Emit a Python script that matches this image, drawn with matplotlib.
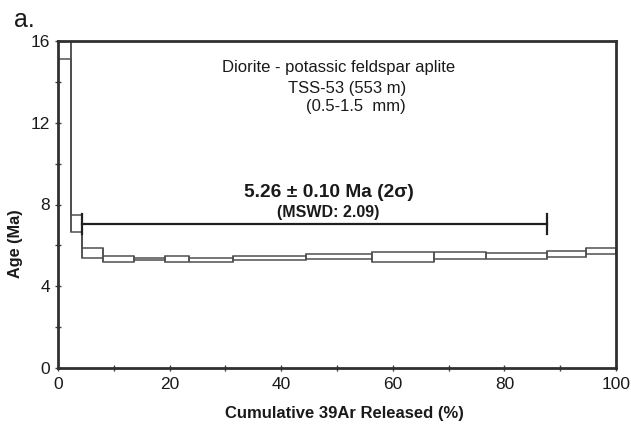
import numpy as np
import matplotlib.pyplot as plt
from matplotlib.ticker import MultipleLocator

plt.rcParams['font.family'] = ['Liberation Sans', 'DejaVu Sans']

# step heating data: cumulative 39Ar edges (%), apparent age (Ma), 2 sigma error
cum_edges = [0, 2.3, 4.25, 8.1, 13.6, 19.2, 23.5, 31.4, 44.4, 56.2, 67.4, 76.7, 87.7, 94.7, 100]
step_age = [15.9, 7.08, 5.62, 5.34, 5.32, 5.33, 5.30, 5.38, 5.46, 5.45, 5.49, 5.48, 5.58, 5.72]
step_err = [0.8, 0.41, 0.25, 0.14, 0.05, 0.13, 0.10, 0.09, 0.13, 0.25, 0.17, 0.16, 0.13, 0.14]

# plateau
plateau_age = 5.26
plateau_err = 0.10
mswd = 2.09
plateau_x = [4.25, 87.7]
plateau_y = 7.04

sample_lines = ["Diorite - potassic feldspar aplite", "TSS-53 (553 m)", "(0.5-1.5  mm)"]

age = np.array(step_age)
err = np.array(step_err)
edges = np.array(cum_edges)
lo = age - err
hi = age + err

fig = plt.figure(figsize=(6.31, 4.25), dpi=100)
ax = fig.add_axes([58 / 631, 1 - 368 / 425, 558 / 631, 327 / 425])

# step outline (upper + lower) and the side edges of every box
box_col = '#505050'
ax.stairs(hi, edges, baseline=lo, color=box_col, lw=1.1)
ax.vlines(edges[:-1], lo, hi, color=box_col, lw=1.1)
ax.vlines(edges[1:], lo, hi, color=box_col, lw=1.1)

# plateau bar with end caps
ax.plot(plateau_x, [plateau_y, plateau_y], color='#202020', lw=1.6)
for xx in plateau_x:
    ax.plot([xx, xx], [plateau_y - 0.5, plateau_y + 0.5], color='#202020', lw=1.6)

ax.text(48.5, 8.58, "%.2f \u00b1 %.2f Ma (2\u03c3)" % (plateau_age, plateau_err),
        ha='center', va='center', fontsize=13.8, fontweight='bold', color='#1a1a1a')
ax.text(48.5, 7.62, "(MSWD: %.2f)" % mswd, ha='center', va='center',
        fontsize=11.5, fontweight='bold', color='#1a1a1a')

ax.text(50.3, 14.68, sample_lines[0], ha='center', va='center', fontsize=12, color='#1a1a1a')
ax.text(51.9, 13.68, sample_lines[1], ha='center', va='center', fontsize=12, color='#1a1a1a')
ax.text(53.4, 12.78, sample_lines[2], ha='center', va='center', fontsize=12, color='#1a1a1a')

ax.set_xlim(0, 100)
ax.set_ylim(0, 16)
ax.xaxis.set_major_locator(MultipleLocator(20))
ax.xaxis.set_minor_locator(MultipleLocator(10))
ax.yaxis.set_major_locator(MultipleLocator(4))
ax.yaxis.set_minor_locator(MultipleLocator(2))
ax.tick_params(which='both', direction='inout', length=5, width=1, color='#404040',
               labelsize=12.5, labelcolor='#1a1a1a')
ax.tick_params(axis='x', pad=4)
ax.tick_params(axis='y', pad=3)

for sp in ax.spines.values():
    sp.set_linewidth(2)
    sp.set_color('#303030')

ax.set_xlabel("Cumulative 39Ar Released (%)", fontsize=12, fontweight='bold', color='#1a1a1a')
ax.xaxis.label.set_va('center')
ax.xaxis.set_label_coords(0.513, -0.138)
ax.set_ylabel("Age (Ma)", fontsize=11.7, fontweight='bold', color='#1a1a1a')
ax.yaxis.set_label_coords(-0.063, 0.379)

fig.text(14 / 631, 1 - 20 / 425, "a.", fontsize=18, va='center', ha='left', color='#1a1a1a')

fig.savefig("out.png", dpi=100)
